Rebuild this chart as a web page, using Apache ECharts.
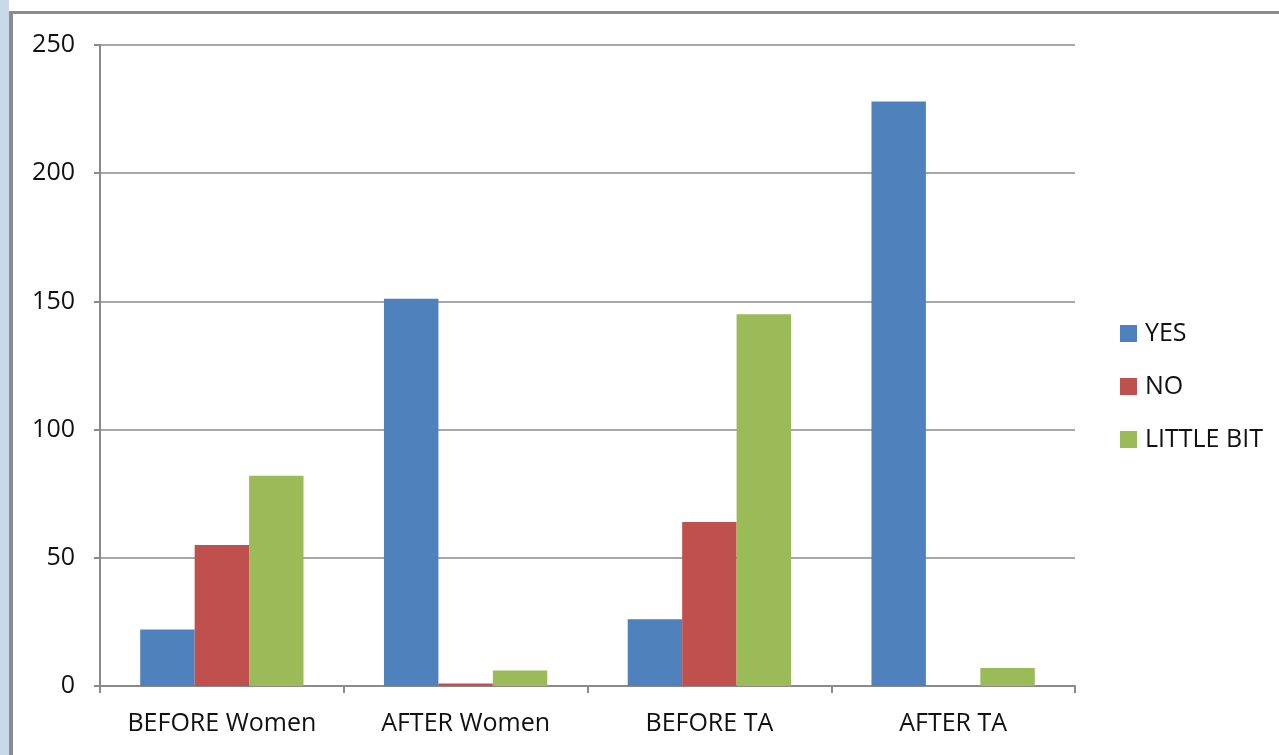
<!DOCTYPE html>
<html>
<head>
<meta charset="utf-8">
<script src="https://cdn.jsdelivr.net/npm/echarts@6/dist/echarts.min.js"></script>
<style>
  html, body { margin: 0; padding: 0; background: #ffffff; }
  #chart { width: 1279px; height: 755px; }
</style>
</head>
<body>
<div id="chart"></div>
<script>
// Survey responses before and after, grouped by audience
const categories = ['BEFORE Women', 'AFTER Women', 'BEFORE TA', 'AFTER TA'];
const seriesNames = ['YES', 'NO', 'LITTLE BIT'];
const yesValues = [22, 151, 26, 228];
const noValues = [55, 1, 64, 0];
const littleBitValues = [82, 6, 145, 7];
const yTicks = [0, 50, 100, 150, 200, 250];

const colors = ['#4f81bd', '#c0504d', '#9bbb59'];
const fontFamily = '"Open Sans", "Noto Sans", sans-serif';
const axisGray = '#8a8a8a';
const textColor = '#111111';

const chart = echarts.init(document.getElementById('chart'), null, { renderer: 'canvas' });

const makeBar = (name, values, color) => ({
  name: name,
  type: 'bar',
  data: values,
  barGap: '0%',
  barCategoryGap: '33%',
  itemStyle: { color: color },
  emphasis: { disabled: true }
});

chart.setOption({
  animation: false,
  backgroundColor: '#ffffff',
  color: colors,
  graphic: [
    // window frame on the left and top
    { type: 'rect', left: 0, top: 0, shape: { width: 9, height: 755 }, style: { fill: '#c9d9ea' }, silent: true },
    { type: 'rect', left: 9, top: 11, shape: { width: 4, height: 744 }, style: { fill: '#8c8c8c' }, silent: true },
    { type: 'rect', left: 9, top: 11, shape: { width: 1270, height: 3 }, style: { fill: '#8c8c8c' }, silent: true }
  ],
  grid: { left: 100, right: 204, top: 45, bottom: 69, containLabel: false },
  legend: {
    data: seriesNames,
    orient: 'vertical',
    left: 1115,
    top: 316,
    icon: 'rect',
    itemWidth: 17,
    itemHeight: 17,
    itemGap: 28,
    textStyle: { fontFamily: fontFamily, fontSize: 25, lineHeight: 25, color: textColor, padding: [0, 0, 0, 3] }
  },
  xAxis: {
    type: 'category',
    data: categories,
    axisLine: { show: true, lineStyle: { color: axisGray, width: 2 } },
    axisTick: { show: true, alignWithLabel: false, interval: 0, length: 7, lineStyle: { color: axisGray, width: 2 } },
    axisLabel: { interval: 0, hideOverlap: false, margin: 25, fontFamily: fontFamily, fontSize: 25, color: textColor }
  },
  yAxis: {
    type: 'value',
    min: yTicks[0],
    max: yTicks[yTicks.length - 1],
    interval: yTicks[1] - yTicks[0],
    axisLine: { show: true, lineStyle: { color: axisGray, width: 2 } },
    axisTick: { show: true, length: 6, lineStyle: { color: axisGray, width: 2 } },
    splitLine: { show: true, lineStyle: { color: axisGray, width: 1.5 } },
    axisLabel: { margin: 25, fontFamily: fontFamily, fontSize: 25, color: textColor }
  },
  series: [
    makeBar(seriesNames[0], yesValues, colors[0]),
    makeBar(seriesNames[1], noValues, colors[1]),
    makeBar(seriesNames[2], littleBitValues, colors[2])
  ]
});
</script>
</body>
</html>
